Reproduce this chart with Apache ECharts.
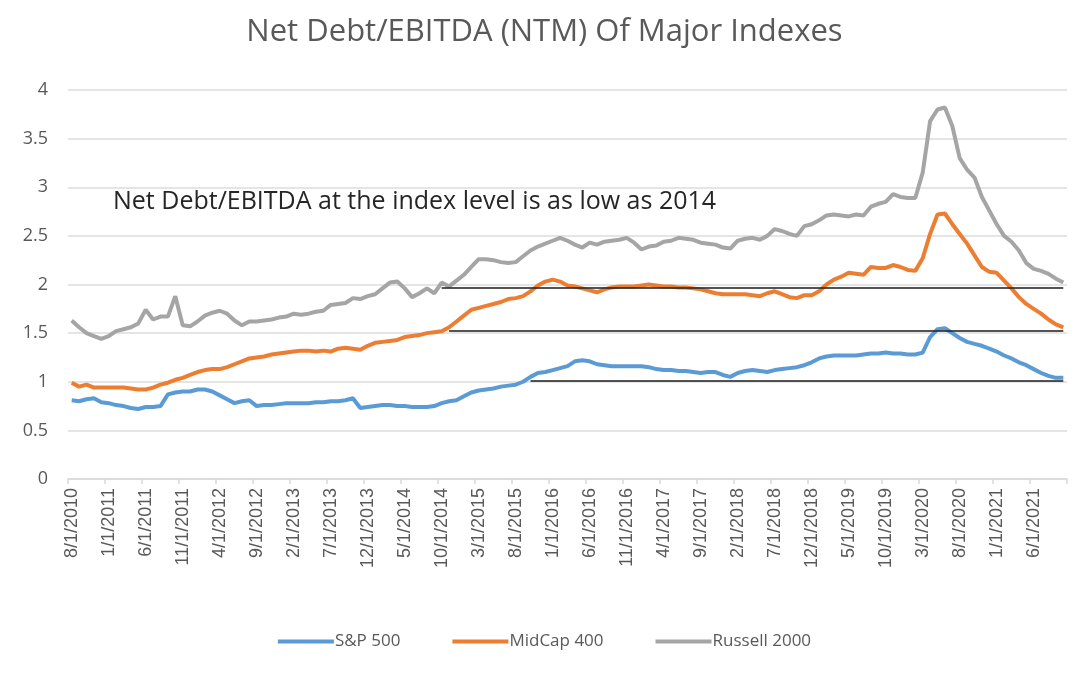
<!DOCTYPE html>
<html>
<head>
<meta charset="utf-8">
<script src="https://cdn.jsdelivr.net/npm/echarts@6/dist/echarts.min.js"></script>
<style>
html,body{margin:0;padding:0;background:#fff;}
#chart{width:1089px;height:679px;}
</style>
</head>
<body>
<div id="chart"></div>
<script>
// Monthly categories 8/1/2010 .. 10/1/2021
const startYear = 2010, startMonth = 8, monthCount = 135;
const categories = [];
for (let k = 0; k < monthCount; k++) {
  const m = (startMonth - 1 + k) % 12 + 1;
  const y = startYear + Math.floor((startMonth - 1 + k) / 12);
  categories.push(m + '/1/' + y);
}

const seriesNames = ['S&P 500', 'MidCap 400', 'Russell 2000'];

const sp500 = [
0.81,0.80,0.82,0.83,0.79,0.78,0.76,0.75,0.73,0.72,
0.74,0.74,0.75,0.87,0.89,0.90,0.90,0.92,0.92,0.90,
0.86,0.82,0.78,0.80,0.81,0.75,0.76,0.76,0.77,0.78,
0.78,0.78,0.78,0.79,0.79,0.80,0.80,0.81,0.83,0.73,
0.74,0.75,0.76,0.76,0.75,0.75,0.74,0.74,0.74,0.75,
0.78,0.80,0.81,0.85,0.89,0.91,0.92,0.93,0.95,0.96,
0.97,1.00,1.05,1.09,1.10,1.12,1.14,1.16,1.21,1.22,
1.21,1.18,1.17,1.16,1.16,1.16,1.16,1.16,1.15,1.13,
1.12,1.12,1.11,1.11,1.10,1.09,1.10,1.10,1.07,1.05,
1.09,1.11,1.12,1.11,1.10,1.12,1.13,1.14,1.15,1.17,
1.20,1.24,1.26,1.27,1.27,1.27,1.27,1.28,1.29,1.29,
1.30,1.29,1.29,1.28,1.28,1.30,1.46,1.54,1.55,1.50,
1.45,1.41,1.39,1.37,1.34,1.31,1.27,1.24,1.20,1.17,
1.13,1.09,1.06,1.04,1.04
];

const midcap400 = [
0.99,0.95,0.97,0.94,0.94,0.94,0.94,0.94,0.93,0.92,
0.92,0.94,0.97,0.99,1.02,1.04,1.07,1.10,1.12,1.13,
1.13,1.15,1.18,1.21,1.24,1.25,1.26,1.28,1.29,1.30,
1.31,1.32,1.32,1.31,1.32,1.31,1.34,1.35,1.34,1.33,
1.37,1.40,1.41,1.42,1.43,1.46,1.47,1.48,1.50,1.51,
1.52,1.56,1.62,1.68,1.74,1.76,1.78,1.80,1.82,1.85,
1.86,1.88,1.93,1.99,2.03,2.05,2.03,1.99,1.98,1.96,
1.94,1.92,1.95,1.97,1.98,1.98,1.98,1.99,2.00,1.99,
1.98,1.98,1.97,1.97,1.96,1.95,1.93,1.91,1.90,1.90,
1.90,1.90,1.89,1.88,1.91,1.93,1.90,1.87,1.86,1.89,
1.89,1.93,2.00,2.05,2.08,2.12,2.11,2.10,2.18,2.17,
2.17,2.20,2.18,2.15,2.14,2.27,2.52,2.72,2.73,2.62,
2.52,2.42,2.30,2.18,2.13,2.12,2.04,1.96,1.87,1.80,
1.75,1.70,1.64,1.59,1.56
];

const russell2000 = [
1.63,1.56,1.50,1.47,1.44,1.47,1.52,1.54,1.56,1.60,
1.74,1.64,1.67,1.67,1.88,1.58,1.57,1.62,1.68,1.71,
1.73,1.70,1.63,1.58,1.62,1.62,1.63,1.64,1.66,1.67,
1.70,1.69,1.70,1.72,1.73,1.79,1.80,1.81,1.86,1.85,
1.88,1.90,1.96,2.02,2.03,1.96,1.87,1.91,1.96,1.91,
2.02,1.98,2.04,2.10,2.18,2.26,2.26,2.25,2.23,2.22,
2.23,2.29,2.35,2.39,2.42,2.45,2.48,2.45,2.41,2.38,
2.43,2.41,2.44,2.45,2.46,2.48,2.43,2.36,2.39,2.40,
2.44,2.45,2.48,2.47,2.46,2.43,2.42,2.41,2.38,2.37,
2.45,2.47,2.48,2.46,2.50,2.57,2.55,2.52,2.50,2.60,
2.62,2.66,2.71,2.72,2.71,2.70,2.72,2.71,2.80,2.83,
2.85,2.93,2.90,2.89,2.89,3.15,3.68,3.80,3.82,3.63,
3.30,3.18,3.10,2.90,2.76,2.62,2.50,2.44,2.35,2.22,
2.16,2.14,2.11,2.06,2.02
];

// Reference levels (2014 levels) drawn as horizontal lines to the last month
const refStarts = ['10/1/2014', '11/1/2014', '10/1/2015'];
const refValues = [1.97, 1.52, 1.01];

const yTicks = { min: 0, max: 4, interval: 0.5 };
const titleText = 'Net Debt/EBITDA (NTM) Of Major Indexes';
const noteText = 'Net Debt/EBITDA at the index level is as low as 2014';

const colors = ['#5B9BD5', '#ED7D31', '#A5A5A5'];
const seriesData = [sp500, midcap400, russell2000];

const chart = echarts.init(document.getElementById('chart'), null, { renderer: 'canvas' });

const lastCat = categories[categories.length - 1];
const series = seriesData.map((d, k) => ({
  name: seriesNames[k],
  type: 'line',
  data: d,
  showSymbol: false,
  symbol: 'none',
  smooth: false,
  lineStyle: { color: colors[k], width: 4 },
  itemStyle: { color: colors[k] },
  z: 2
}));
refStarts.forEach((s, k) => {
  series.push({
    name: 'ref' + k,
    type: 'line',
    data: [],
    silent: true,
    markLine: {
      silent: true,
      symbol: ['none', 'none'],
      label: { show: false },
      lineStyle: { color: 'rgba(40,40,40,0.8)', width: 2, type: 'solid' },
      data: [[{ coord: [s, refValues[k]] }, { coord: [lastCat, refValues[k]] }]]
    },
    z: 5
  });
});

chart.setOption({
  animation: false,
  backgroundColor: '#ffffff',
  title: {
    text: titleText,
    left: 'center',
    top: 12,
    textStyle: { fontFamily: 'Open Sans', fontSize: 31, fontWeight: 'normal', color: '#595959' }
  },
  legend: {
    data: seriesNames,
    bottom: 24,
    left: 'center',
    itemWidth: 56,
    itemHeight: 4,
    itemGap: 52,
    icon: 'rect',
    textStyle: { fontFamily: 'Open Sans', fontSize: 17, color: '#595959', padding: [0, 0, 0, -4] }
  },
  grid: { left: 68, right: 22, top: 90, bottom: 200 },
  xAxis: {
    type: 'category',
    data: categories,
    boundaryGap: true,
    axisLine: { show: true, lineStyle: { color: '#d9d9d9', width: 1.5 } },
    axisTick: { show: true, interval: 4, length: 5, lineStyle: { color: '#d9d9d9', width: 1.5 } },
    axisLabel: {
      interval: 4,
      rotate: 90,
      margin: 9,
      fontFamily: 'Liberation Sans',
      fontSize: 18,
      color: '#595959'
    },
    splitLine: { show: false }
  },
  yAxis: {
    type: 'value',
    min: yTicks.min,
    max: yTicks.max,
    interval: yTicks.interval,
    axisLine: { show: false },
    axisTick: { show: false },
    axisLabel: { fontFamily: 'Open Sans', fontSize: 18, color: '#595959', margin: 20 },
    splitLine: { lineStyle: { color: '#dcdcdc', width: 1.5 } }
  },
  graphic: [{
    type: 'text',
    left: 113,
    top: 189,
    style: { text: noteText, font: '25px "Open Sans"', fill: '#262626' }
  }],
  series: series
});
</script>
</body>
</html>
